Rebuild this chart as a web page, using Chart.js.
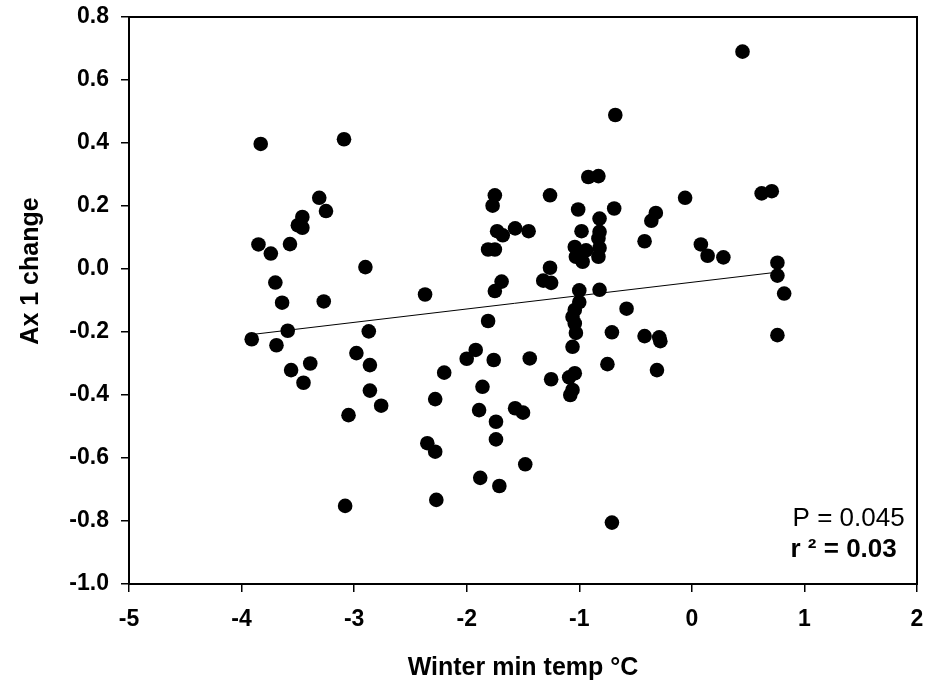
<!DOCTYPE html>
<html>
<head>
<meta charset="utf-8">
<script src="https://cdn.jsdelivr.net/npm/chart.js@4"></script>
<style>
  html, body { margin: 0; padding: 0; background: #fff; }
  #wrap { width: 927px; height: 691px; }
</style>
</head>
<body>
<div id="wrap"><canvas id="chart" width="927" height="691"></canvas></div>
<script>
// winter min temp (x) and Ax 1 change (y)
const tempX = [
    -3.83, -3.09, -3.31, -3.25, -3.46, -3.50, -3.46, -3.85, -3.74, -3.57,
    -2.90, -3.70, -3.64, -3.27, -3.91, -3.59, -3.69, -3.56, -3.39, -3.45,
    -2.87, -2.98, -2.86, -2.86, -2.76, -3.05, -3.08,
    -2.37, -1.75, -1.77, -1.73, -1.68, -1.57, -1.45, -1.81, -1.75, -1.69,
    -1.75, -1.81, -1.92, -2.00, -1.76, -2.20, -1.86, -2.28, -1.89, -1.74,
    -1.74, -2.35, -2.28, -1.88, -1.71, -2.27, -1.44, -1.57, -1.50, -1.48,
    -1.25,
    -1.26, -1.26, -1.32, -1.25, -0.92, -0.83, -1.01, -0.69, -0.82, -0.98,
    -0.82, -0.83, -1.04, -0.94, -0.82, -1.03, -0.97, -0.83, -1.00, -0.82,
    -1.00, -1.04, -1.06, -1.04, -1.03, -1.06, -1.04, -1.09, -1.06, -1.08,
    -0.58, -0.71, -0.75, -0.71, -0.68,
    -0.06, -0.32, -0.36, -0.42, 0.08, 0.14, 0.28, 0.62, 0.71, 0.76,
    0.76, 0.82, 0.76, 0.45, -0.42, -0.29, -0.28, -0.31
];
const axChange = [
    0.397, 0.412, 0.226, 0.184, 0.165, 0.139, 0.131, 0.078, 0.049, 0.079,
    0.006, -0.043, -0.107, -0.103, -0.223, -0.196, -0.242, -0.321, -0.300, -0.361,
    -0.198, -0.267, -0.305, -0.386, -0.434, -0.464, -0.752,
    -0.081, 0.234, 0.201, 0.120, 0.107, 0.129, 0.120, 0.062, 0.062, -0.040,
    -0.070, -0.165, -0.257, -0.285, -0.289, -0.329, -0.374, -0.413, -0.448, -0.485,
    -0.541, -0.553, -0.580, -0.663, -0.689, -0.733, -0.284, -0.442, -0.456, -0.620,
    -0.350,
    0.234, 0.004, -0.037, -0.044, 0.292, 0.295, 0.189, 0.192, 0.160, 0.120,
    0.118, 0.097, 0.070, 0.059, 0.067, 0.039, 0.023, 0.039, -0.068, -0.066,
    -0.105, -0.130, -0.152, -0.173, -0.203, -0.247, -0.331, -0.344, -0.384, -0.400,
    -0.126, -0.201, -0.302, -0.805, 0.489,
    0.226, 0.178, 0.153, 0.088, 0.078, 0.042, 0.037, 0.240, 0.247, 0.020,
    -0.021, -0.078, -0.210, 0.690, -0.213, -0.217, -0.229, -0.321
];

// regression line end points
const fitX = [-3.91, 0.76];
const fitY = [-0.208, -0.010];

const xTicks = [-5, -4, -3, -2, -1, 0, 1, 2];
const yTicks = [-1.0, -0.8, -0.6, -0.4, -0.2, 0.0, 0.2, 0.4, 0.6, 0.8];

const statP = "P = 0.045";
const statR2 = "r \u00b2 = 0.03";

const FONT = "'Liberation Sans', Arial, sans-serif";

const points = tempX.map((x, i) => ({ x: x, y: axChange[i] }));
const fitLine = fitX.map((x, i) => ({ x: x, y: fitY[i] }));

const frameAndText = {
    id: "frameAndText",
    afterDraw(chart) {
        const ctx = chart.ctx;
        const a = chart.chartArea;
        const xs = chart.scales.x;
        const ys = chart.scales.y;
        ctx.save();
        ctx.strokeStyle = "#000";
        ctx.lineWidth = 2;
        ctx.strokeRect(a.left, a.top, a.right - a.left, a.bottom - a.top);

        ctx.fillStyle = "#000";
        ctx.textAlign = "right";
        ctx.textBaseline = "middle";
        ctx.font = "26px " + FONT;
        ctx.fillText(statP, xs.getPixelForValue(1.89), ys.getPixelForValue(-0.794));
        ctx.font = "bold 26px " + FONT;
        ctx.fillText(statR2, xs.getPixelForValue(1.82), ys.getPixelForValue(-0.892));

        // y axis title
        ctx.translate(31, 271);
        ctx.rotate(-Math.PI / 2);
        ctx.textAlign = "center";
        ctx.font = "bold 25px " + FONT;
        ctx.fillText("Ax 1 change", 0, 0);
        ctx.restore();
    }
};

const tickFont = { family: FONT, size: 23, weight: "bold" };
const titleFont = { family: FONT, size: 25, weight: "bold" };

new Chart("chart", {
    type: "scatter",
    data: {
        datasets: [{
            data: points,
            backgroundColor: "#000",
            borderColor: "#000",
            borderWidth: 0,
            pointRadius: 7.3,
            pointHoverRadius: 7.3
        }, {
            type: "line",
            data: fitLine,
            borderColor: "#000",
            borderWidth: 1,
            pointRadius: 0,
            fill: false
        }]
    },
    options: {
        responsive: false,
        animation: false,
        events: [],
        layout: { padding: { left: 0, right: 10, top: 17, bottom: 0 } },
        plugins: { legend: { display: false }, tooltip: { enabled: false } },
        scales: {
            x: {
                type: "linear",
                min: -5,
                max: 2,
                afterFit: (s) => { s.height = 107; s.paddingLeft = 0; s.paddingRight = 0; },
                afterBuildTicks: (s) => { s.ticks = xTicks.map(v => ({ value: v })); },
                ticks: { font: tickFont, color: "#000", padding: 14,
                    callback: (v) => String(v) },
                grid: { drawOnChartArea: false, drawTicks: true, tickLength: 8, color: "#000", lineWidth: 1.5 },
                border: { display: true, color: "#000", width: 2 },
                title: { display: true, text: "Winter min temp \u00b0C", font: titleFont, color: "#000",
                    padding: { top: 0, bottom: 8 } }
            },
            y: {
                type: "linear",
                min: -1.0,
                max: 0.8,
                afterFit: (s) => { s.width = 129; s.paddingTop = 0; s.paddingBottom = 0; },
                afterBuildTicks: (s) => { s.ticks = yTicks.map(v => ({ value: v })); },
                ticks: { font: tickFont, color: "#000", padding: 12,
                    callback: (v) => (Math.abs(v) < 1e-9 ? 0 : v).toFixed(1) },
                grid: { drawOnChartArea: false, drawTicks: true, tickLength: 8, color: "#000", lineWidth: 1.5 },
                border: { display: true, color: "#000", width: 2 }
            }
        }
    },
    plugins: [frameAndText]
});
</script>
</body>
</html>
